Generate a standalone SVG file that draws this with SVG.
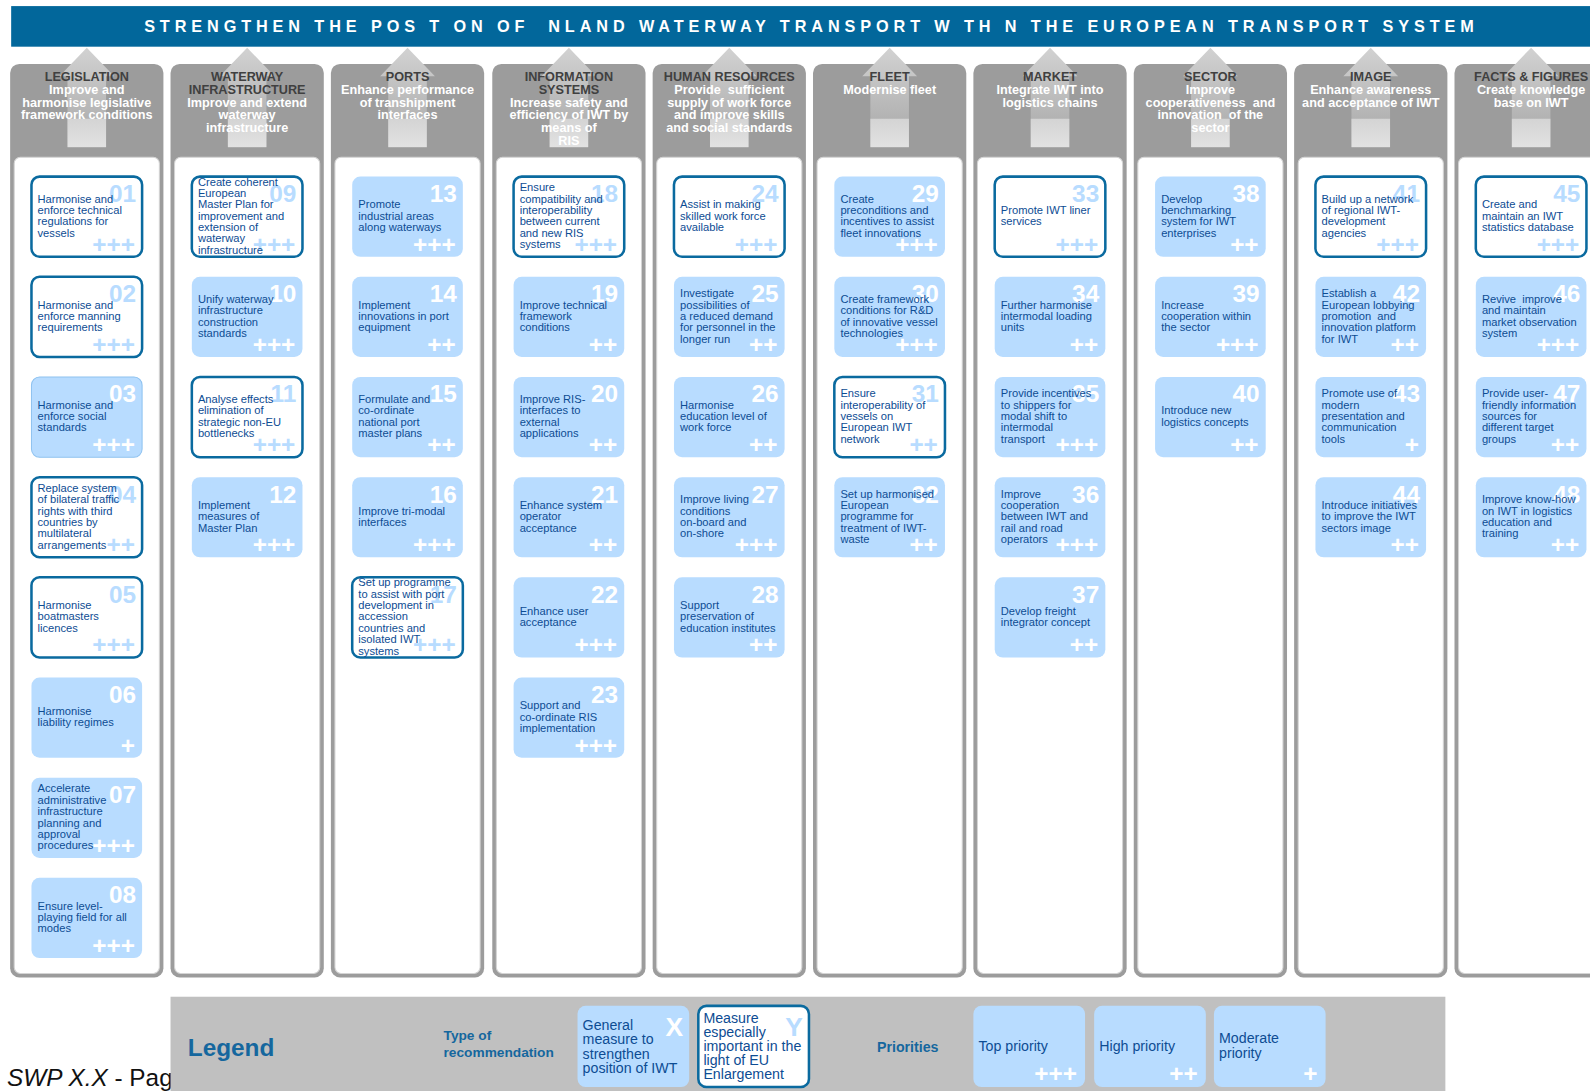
<svg xmlns="http://www.w3.org/2000/svg" width="1590" height="1091" viewBox="0 0 1590 1091">
<defs>
<style>
text{font-family:"Liberation Sans",Arial,Helvetica,sans-serif}
.banner{fill:#02679b}
.ttl{font-size:16px;font-weight:bold;fill:#fff;white-space:pre}
.cbg{fill:#9c9c9c}
.cin{fill:#fff;stroke:#d4d4d4;stroke-width:1}
.ht{font-size:12.5px;font-weight:bold;fill:#404040;text-anchor:middle}
.hs{font-size:12.5px;font-weight:bold;fill:#fff;text-anchor:middle;white-space:pre}
.cf{fill:#b8dcff}
.cb{fill:#b8dcff;stroke:#8ec2f0;stroke-width:1}
.co{fill:#fff;stroke:#0a6a9f;stroke-width:2.5}
.num{font-size:24px;font-weight:bold;text-anchor:end}
.pl{font-size:24px;font-weight:bold;text-anchor:end}
.w{fill:#fff}
.lb{fill:#b8dcff}
.tx{font-size:11px;fill:#0d4c93;white-space:pre}
.lg{fill:#c0c0c0}
.lgl{font-weight:bold;fill:#15679e}
.ltx{font-size:14px;fill:#0d4c93}
</style>
<linearGradient id="ag" x1="0" y1="0" x2="0" y2="1">
<stop offset="0" stop-color="#d2d2d2"/><stop offset="1" stop-color="#a6a6a6"/>
</linearGradient>
<linearGradient id="sg" x1="0" y1="0" x2="0" y2="1">
<stop offset="0" stop-color="#d4d4d4"/><stop offset="1" stop-color="#e2e2e2"/>
</linearGradient>
<g id="arrow">
<polygon points="0,47 27,75 19,75 19,145 -19,145 -19,75 -27,75" fill="url(#ag)"/>
<rect x="-19" y="117" width="38" height="28" fill="url(#sg)"/>
</g>
</defs>

<rect width="1590" height="1091" fill="#fff"/>

<g id="diagram" transform="scale(1.015)">

<g id="footer-page">
<text x="7" y="1070" font-size="24" fill="#111"><tspan font-style="italic">SWP X.X</tspan> - Page</text>
</g>

<g id="goal">
<rect class="banner" x="11" y="6" width="1579" height="40"/>
<text class="ttl" x="142" y="31.5" textLength="1310" lengthAdjust="spacing">STRENGTHEN THE POS T ON OF  NLAND WATERWAY TRANSPORT W TH N THE EUROPEAN TRANSPORT SYSTEM</text>
</g>

<g id="columns-frame">
<rect class="cbg" x="10" y="63" width="151" height="900" rx="9"/><rect class="cin" x="14" y="155" width="143" height="804" rx="6"/>
<rect class="cbg" x="168" y="63" width="151" height="900" rx="9"/><rect class="cin" x="172" y="155" width="143" height="804" rx="6"/>
<rect class="cbg" x="326" y="63" width="151" height="900" rx="9"/><rect class="cin" x="330" y="155" width="143" height="804" rx="6"/>
<rect class="cbg" x="485" y="63" width="151" height="900" rx="9"/><rect class="cin" x="489" y="155" width="143" height="804" rx="6"/>
<rect class="cbg" x="643" y="63" width="151" height="900" rx="9"/><rect class="cin" x="647" y="155" width="143" height="804" rx="6"/>
<rect class="cbg" x="801" y="63" width="151" height="900" rx="9"/><rect class="cin" x="805" y="155" width="143" height="804" rx="6"/>
<rect class="cbg" x="959" y="63" width="151" height="900" rx="9"/><rect class="cin" x="963" y="155" width="143" height="804" rx="6"/>
<rect class="cbg" x="1117" y="63" width="151" height="900" rx="9"/><rect class="cin" x="1121" y="155" width="143" height="804" rx="6"/>
<rect class="cbg" x="1275" y="63" width="151" height="900" rx="9"/><rect class="cin" x="1279" y="155" width="143" height="804" rx="6"/>
<rect class="cbg" x="1433" y="63" width="151" height="900" rx="9"/><rect class="cin" x="1437" y="155" width="143" height="804" rx="6"/>
</g>

<g id="connectors">
<use href="#arrow" x="85.5"/>
<use href="#arrow" x="243.5"/>
<use href="#arrow" x="401.5"/>
<use href="#arrow" x="560.5"/>
<use href="#arrow" x="718.5"/>
<use href="#arrow" x="876.5"/>
<use href="#arrow" x="1034.5"/>
<use href="#arrow" x="1192.5"/>
<use href="#arrow" x="1350.5"/>
<use href="#arrow" x="1508.5"/>
</g>

<!-- Column 1 -->
<g id="col-legislation">
<text class="ht" x="85.5" y="80">LEGISLATION</text>
<text class="hs" y="92.5"><tspan x="85.5">Improve and</tspan><tspan x="85.5" dy="12.5">harmonise legislative</tspan><tspan x="85.5" dy="12.5">framework conditions</tspan></text>
<g id="m01" transform="translate(31,174)"><rect class="co" width="109" height="79" rx="8"/><text class="num lb" x="103" y="25">01</text><text class="pl lb" x="102" y="75">+++</text><text class="tx" y="25.7"><tspan x="6">Harmonise and</tspan><tspan x="6" dy="11.2">enforce technical</tspan><tspan x="6" dy="11.2">regulations for</tspan><tspan x="6" dy="11.2">vessels</tspan></text></g>
<g id="m02" transform="translate(31,272.7)"><rect class="co" width="109" height="79" rx="8"/><text class="num lb" x="103" y="25">02</text><text class="pl lb" x="102" y="75">+++</text><text class="tx" y="31.3"><tspan x="6">Harmonise and</tspan><tspan x="6" dy="11.2">enforce manning</tspan><tspan x="6" dy="11.2">requirements</tspan></text></g>
<g id="m03" transform="translate(31,371.4)"><rect class="cb" width="109" height="79" rx="8"/><text class="num w" x="103" y="25">03</text><text class="pl w" x="102" y="75">+++</text><text class="tx" y="31.3"><tspan x="6">Harmonise and</tspan><tspan x="6" dy="11.2">enforce social</tspan><tspan x="6" dy="11.2">standards</tspan></text></g>
<g id="m04" transform="translate(31,470.1)"><rect class="co" width="109" height="79" rx="8"/><text class="num lb" x="103" y="25">04</text><text class="pl lb" x="102" y="75">++</text><text class="tx" y="14.5"><tspan x="6">Replace system</tspan><tspan x="6" dy="11.2">of bilateral traffic</tspan><tspan x="6" dy="11.2">rights with third</tspan><tspan x="6" dy="11.2">countries by</tspan><tspan x="6" dy="11.2">multilateral</tspan><tspan x="6" dy="11.2">arrangements</tspan></text></g>
<g id="m05" transform="translate(31,568.8)"><rect class="co" width="109" height="79" rx="8"/><text class="num lb" x="103" y="25">05</text><text class="pl lb" x="102" y="75">+++</text><text class="tx" y="31.3"><tspan x="6">Harmonise</tspan><tspan x="6" dy="11.2">boatmasters</tspan><tspan x="6" dy="11.2">licences</tspan></text></g>
<g id="m06" transform="translate(31,667.5)"><rect class="cf" width="109" height="79" rx="8"/><text class="num w" x="103" y="25">06</text><text class="pl w" x="102" y="75">+</text><text class="tx" y="36.9"><tspan x="6">Harmonise</tspan><tspan x="6" dy="11.2">liability regimes</tspan></text></g>
<g id="m07" transform="translate(31,766.2)"><rect class="cf" width="109" height="79" rx="8"/><text class="num w" x="103" y="25">07</text><text class="pl w" x="102" y="75">+++</text><text class="tx" y="14.5"><tspan x="6">Accelerate</tspan><tspan x="6" dy="11.2">administrative</tspan><tspan x="6" dy="11.2">infrastructure</tspan><tspan x="6" dy="11.2">planning and</tspan><tspan x="6" dy="11.2">approval</tspan><tspan x="6" dy="11.2">procedures</tspan></text></g>
<g id="m08" transform="translate(31,864.9)"><rect class="cf" width="109" height="79" rx="8"/><text class="num w" x="103" y="25">08</text><text class="pl w" x="102" y="75">+++</text><text class="tx" y="31.3"><tspan x="6">Ensure level-</tspan><tspan x="6" dy="11.2">playing field for all</tspan><tspan x="6" dy="11.2">modes</tspan></text></g>
</g>

<!-- Column 2 -->
<g id="col-waterway">
<text class="ht" y="80"><tspan x="243.5">WATERWAY</tspan><tspan x="243.5" dy="12.5">INFRASTRUCTURE</tspan></text>
<text class="hs" y="105"><tspan x="243.5">Improve and extend</tspan><tspan x="243.5" dy="12.5">waterway</tspan><tspan x="243.5" dy="12.5">infrastructure</tspan></text>
<g id="m09" transform="translate(189,174)"><rect class="co" width="109" height="79" rx="8"/><text class="num lb" x="103" y="25">09</text><text class="pl lb" x="102" y="75">+++</text><text class="tx" y="8.9"><tspan x="6">Create coherent</tspan><tspan x="6" dy="11.2">European</tspan><tspan x="6" dy="11.2">Master Plan for</tspan><tspan x="6" dy="11.2">improvement and</tspan><tspan x="6" dy="11.2">extension of</tspan><tspan x="6" dy="11.2">waterway</tspan><tspan x="6" dy="11.2">infrastructure</tspan></text></g>
<g id="m10" transform="translate(189,272.7)"><rect class="cf" width="109" height="79" rx="8"/><text class="num w" x="103" y="25">10</text><text class="pl w" x="102" y="75">+++</text><text class="tx" y="25.7"><tspan x="6">Unify waterway</tspan><tspan x="6" dy="11.2">infrastructure</tspan><tspan x="6" dy="11.2">construction</tspan><tspan x="6" dy="11.2">standards</tspan></text></g>
<g id="m11" transform="translate(189,371.4)"><rect class="co" width="109" height="79" rx="8"/><text class="num lb" x="103" y="25">11</text><text class="pl lb" x="102" y="75">+++</text><text class="tx" y="25.7"><tspan x="6">Analyse effects</tspan><tspan x="6" dy="11.2">elimination of</tspan><tspan x="6" dy="11.2">strategic non-EU</tspan><tspan x="6" dy="11.2">bottlenecks</tspan></text></g>
<g id="m12" transform="translate(189,470.1)"><rect class="cf" width="109" height="79" rx="8"/><text class="num w" x="103" y="25">12</text><text class="pl w" x="102" y="75">+++</text><text class="tx" y="31.3"><tspan x="6">Implement</tspan><tspan x="6" dy="11.2">measures of</tspan><tspan x="6" dy="11.2">Master Plan</tspan></text></g>
</g>

<!-- Column 3 -->
<g id="col-ports">
<text class="ht" x="401.5" y="80">PORTS</text>
<text class="hs" y="92.5"><tspan x="401.5">Enhance performance</tspan><tspan x="401.5" dy="12.5">of transhipment</tspan><tspan x="401.5" dy="12.5">interfaces</tspan></text>
<g id="m13" transform="translate(347,174)"><rect class="cf" width="109" height="79" rx="8"/><text class="num w" x="103" y="25">13</text><text class="pl w" x="102" y="75">+++</text><text class="tx" y="31.3"><tspan x="6">Promote</tspan><tspan x="6" dy="11.2">industrial areas</tspan><tspan x="6" dy="11.2">along waterways</tspan></text></g>
<g id="m14" transform="translate(347,272.7)"><rect class="cf" width="109" height="79" rx="8"/><text class="num w" x="103" y="25">14</text><text class="pl w" x="102" y="75">++</text><text class="tx" y="31.3"><tspan x="6">Implement</tspan><tspan x="6" dy="11.2">innovations in port</tspan><tspan x="6" dy="11.2">equipment</tspan></text></g>
<g id="m15" transform="translate(347,371.4)"><rect class="cf" width="109" height="79" rx="8"/><text class="num w" x="103" y="25">15</text><text class="pl w" x="102" y="75">++</text><text class="tx" y="25.7"><tspan x="6">Formulate and</tspan><tspan x="6" dy="11.2">co-ordinate</tspan><tspan x="6" dy="11.2">national port</tspan><tspan x="6" dy="11.2">master plans</tspan></text></g>
<g id="m16" transform="translate(347,470.1)"><rect class="cf" width="109" height="79" rx="8"/><text class="num w" x="103" y="25">16</text><text class="pl w" x="102" y="75">+++</text><text class="tx" y="36.9"><tspan x="6">Improve tri-modal</tspan><tspan x="6" dy="11.2">interfaces</tspan></text></g>
<g id="m17" transform="translate(347,568.8)"><rect class="co" width="109" height="79" rx="8"/><text class="num lb" x="103" y="25">17</text><text class="pl lb" x="102" y="75">+++</text><text class="tx" y="8.9"><tspan x="6">Set up programme</tspan><tspan x="6" dy="11.2">to assist with port</tspan><tspan x="6" dy="11.2">development in</tspan><tspan x="6" dy="11.2">accession</tspan><tspan x="6" dy="11.2">countries and</tspan><tspan x="6" dy="11.2">isolated IWT</tspan><tspan x="6" dy="11.2">systems</tspan></text></g>
</g>

<!-- Column 4 -->
<g id="col-information">
<text class="ht" y="80"><tspan x="560.5">INFORMATION</tspan><tspan x="560.5" dy="12.5">SYSTEMS</tspan></text>
<text class="hs" y="105"><tspan x="560.5">Increase safety and</tspan><tspan x="560.5" dy="12.5">efficiency of IWT by</tspan><tspan x="560.5" dy="12.5">means of</tspan><tspan x="560.5" dy="12.5">RIS</tspan></text>
<g id="m18" transform="translate(506,174)"><rect class="co" width="109" height="79" rx="8"/><text class="num lb" x="103" y="25">18</text><text class="pl lb" x="102" y="75">+++</text><text class="tx" y="14.5"><tspan x="6">Ensure</tspan><tspan x="6" dy="11.2">compatibility and</tspan><tspan x="6" dy="11.2">interoperability</tspan><tspan x="6" dy="11.2">between current</tspan><tspan x="6" dy="11.2">and new RIS</tspan><tspan x="6" dy="11.2">systems</tspan></text></g>
<g id="m19" transform="translate(506,272.7)"><rect class="cf" width="109" height="79" rx="8"/><text class="num w" x="103" y="25">19</text><text class="pl w" x="102" y="75">++</text><text class="tx" y="31.3"><tspan x="6">Improve technical</tspan><tspan x="6" dy="11.2">framework</tspan><tspan x="6" dy="11.2">conditions</tspan></text></g>
<g id="m20" transform="translate(506,371.4)"><rect class="cf" width="109" height="79" rx="8"/><text class="num w" x="103" y="25">20</text><text class="pl w" x="102" y="75">++</text><text class="tx" y="25.7"><tspan x="6">Improve RIS-</tspan><tspan x="6" dy="11.2">interfaces to</tspan><tspan x="6" dy="11.2">external</tspan><tspan x="6" dy="11.2">applications</tspan></text></g>
<g id="m21" transform="translate(506,470.1)"><rect class="cf" width="109" height="79" rx="8"/><text class="num w" x="103" y="25">21</text><text class="pl w" x="102" y="75">++</text><text class="tx" y="31.3"><tspan x="6">Enhance system</tspan><tspan x="6" dy="11.2">operator</tspan><tspan x="6" dy="11.2">acceptance</tspan></text></g>
<g id="m22" transform="translate(506,568.8)"><rect class="cf" width="109" height="79" rx="8"/><text class="num w" x="103" y="25">22</text><text class="pl w" x="102" y="75">+++</text><text class="tx" y="36.9"><tspan x="6">Enhance user</tspan><tspan x="6" dy="11.2">acceptance</tspan></text></g>
<g id="m23" transform="translate(506,667.5)"><rect class="cf" width="109" height="79" rx="8"/><text class="num w" x="103" y="25">23</text><text class="pl w" x="102" y="75">+++</text><text class="tx" y="31.3"><tspan x="6">Support and</tspan><tspan x="6" dy="11.2">co-ordinate RIS</tspan><tspan x="6" dy="11.2">implementation</tspan></text></g>
</g>

<!-- Column 5 -->
<g id="col-human-resources">
<text class="ht" x="718.5" y="80">HUMAN RESOURCES</text>
<text class="hs" y="92.5"><tspan x="718.5">Provide  sufficient</tspan><tspan x="718.5" dy="12.5">supply of work force</tspan><tspan x="718.5" dy="12.5">and improve skills</tspan><tspan x="718.5" dy="12.5">and social standards</tspan></text>
<g id="m24" transform="translate(664,174)"><rect class="co" width="109" height="79" rx="8"/><text class="num lb" x="103" y="25">24</text><text class="pl lb" x="102" y="75">+++</text><text class="tx" y="31.3"><tspan x="6">Assist in making</tspan><tspan x="6" dy="11.2">skilled work force</tspan><tspan x="6" dy="11.2">available</tspan></text></g>
<g id="m25" transform="translate(664,272.7)"><rect class="cf" width="109" height="79" rx="8"/><text class="num w" x="103" y="25">25</text><text class="pl w" x="102" y="75">++</text><text class="tx" y="20.1"><tspan x="6">Investigate</tspan><tspan x="6" dy="11.2">possibilities of</tspan><tspan x="6" dy="11.2">a reduced demand</tspan><tspan x="6" dy="11.2">for personnel in the</tspan><tspan x="6" dy="11.2">longer run</tspan></text></g>
<g id="m26" transform="translate(664,371.4)"><rect class="cf" width="109" height="79" rx="8"/><text class="num w" x="103" y="25">26</text><text class="pl w" x="102" y="75">++</text><text class="tx" y="31.3"><tspan x="6">Harmonise</tspan><tspan x="6" dy="11.2">education level of</tspan><tspan x="6" dy="11.2">work force</tspan></text></g>
<g id="m27" transform="translate(664,470.1)"><rect class="cf" width="109" height="79" rx="8"/><text class="num w" x="103" y="25">27</text><text class="pl w" x="102" y="75">+++</text><text class="tx" y="25.7"><tspan x="6">Improve living</tspan><tspan x="6" dy="11.2">conditions</tspan><tspan x="6" dy="11.2">on-board and</tspan><tspan x="6" dy="11.2">on-shore</tspan></text></g>
<g id="m28" transform="translate(664,568.8)"><rect class="cf" width="109" height="79" rx="8"/><text class="num w" x="103" y="25">28</text><text class="pl w" x="102" y="75">++</text><text class="tx" y="31.3"><tspan x="6">Support</tspan><tspan x="6" dy="11.2">preservation of</tspan><tspan x="6" dy="11.2">education institutes</tspan></text></g>
</g>

<!-- Column 6 -->
<g id="col-fleet">
<text class="ht" x="876.5" y="80">FLEET</text>
<text class="hs" x="876.5" y="92.5">Modernise fleet</text>
<g id="m29" transform="translate(822,174)"><rect class="cf" width="109" height="79" rx="8"/><text class="num w" x="103" y="25">29</text><text class="pl w" x="102" y="75">+++</text><text class="tx" y="25.7"><tspan x="6">Create</tspan><tspan x="6" dy="11.2">preconditions and</tspan><tspan x="6" dy="11.2">incentives to assist</tspan><tspan x="6" dy="11.2">fleet innovations</tspan></text></g>
<g id="m30" transform="translate(822,272.7)"><rect class="cf" width="109" height="79" rx="8"/><text class="num w" x="103" y="25">30</text><text class="pl w" x="102" y="75">+++</text><text class="tx" y="25.7"><tspan x="6">Create framework</tspan><tspan x="6" dy="11.2">conditions for R&amp;D</tspan><tspan x="6" dy="11.2">of innovative vessel</tspan><tspan x="6" dy="11.2">technologies</tspan></text></g>
<g id="m31" transform="translate(822,371.4)"><rect class="co" width="109" height="79" rx="8"/><text class="num lb" x="103" y="25">31</text><text class="pl lb" x="102" y="75">++</text><text class="tx" y="20.1"><tspan x="6">Ensure</tspan><tspan x="6" dy="11.2">interoperability of</tspan><tspan x="6" dy="11.2">vessels on</tspan><tspan x="6" dy="11.2">European IWT</tspan><tspan x="6" dy="11.2">network</tspan></text></g>
<g id="m32" transform="translate(822,470.1)"><rect class="cf" width="109" height="79" rx="8"/><text class="num w" x="103" y="25">32</text><text class="pl w" x="102" y="75">++</text><text class="tx" y="20.1"><tspan x="6">Set up harmonised</tspan><tspan x="6" dy="11.2">European</tspan><tspan x="6" dy="11.2">programme for</tspan><tspan x="6" dy="11.2">treatment of IWT-</tspan><tspan x="6" dy="11.2">waste</tspan></text></g>
</g>

<!-- Column 7 -->
<g id="col-market">
<text class="ht" x="1034.5" y="80">MARKET</text>
<text class="hs" y="92.5"><tspan x="1034.5">Integrate IWT into</tspan><tspan x="1034.5" dy="12.5">logistics chains</tspan></text>
<g id="m33" transform="translate(980,174)"><rect class="co" width="109" height="79" rx="8"/><text class="num lb" x="103" y="25">33</text><text class="pl lb" x="102" y="75">+++</text><text class="tx" y="36.9"><tspan x="6">Promote IWT liner</tspan><tspan x="6" dy="11.2">services</tspan></text></g>
<g id="m34" transform="translate(980,272.7)"><rect class="cf" width="109" height="79" rx="8"/><text class="num w" x="103" y="25">34</text><text class="pl w" x="102" y="75">++</text><text class="tx" y="31.3"><tspan x="6">Further harmonise</tspan><tspan x="6" dy="11.2">intermodal loading</tspan><tspan x="6" dy="11.2">units</tspan></text></g>
<g id="m35" transform="translate(980,371.4)"><rect class="cf" width="109" height="79" rx="8"/><text class="num w" x="103" y="25">35</text><text class="pl w" x="102" y="75">+++</text><text class="tx" y="20.1"><tspan x="6">Provide incentives</tspan><tspan x="6" dy="11.2">to shippers for</tspan><tspan x="6" dy="11.2">modal shift to</tspan><tspan x="6" dy="11.2">intermodal</tspan><tspan x="6" dy="11.2">transport</tspan></text></g>
<g id="m36" transform="translate(980,470.1)"><rect class="cf" width="109" height="79" rx="8"/><text class="num w" x="103" y="25">36</text><text class="pl w" x="102" y="75">+++</text><text class="tx" y="20.1"><tspan x="6">Improve</tspan><tspan x="6" dy="11.2">cooperation</tspan><tspan x="6" dy="11.2">between IWT and</tspan><tspan x="6" dy="11.2">rail and road</tspan><tspan x="6" dy="11.2">operators</tspan></text></g>
<g id="m37" transform="translate(980,568.8)"><rect class="cf" width="109" height="79" rx="8"/><text class="num w" x="103" y="25">37</text><text class="pl w" x="102" y="75">++</text><text class="tx" y="36.9"><tspan x="6">Develop freight</tspan><tspan x="6" dy="11.2">integrator concept</tspan></text></g>
</g>

<!-- Column 8 -->
<g id="col-sector">
<text class="ht" x="1192.5" y="80">SECTOR</text>
<text class="hs" y="92.5"><tspan x="1192.5">Improve</tspan><tspan x="1192.5" dy="12.5">cooperativeness  and</tspan><tspan x="1192.5" dy="12.5">innovation  of the</tspan><tspan x="1192.5" dy="12.5">sector</tspan></text>
<g id="m38" transform="translate(1138,174)"><rect class="cf" width="109" height="79" rx="8"/><text class="num w" x="103" y="25">38</text><text class="pl w" x="102" y="75">++</text><text class="tx" y="25.7"><tspan x="6">Develop</tspan><tspan x="6" dy="11.2">benchmarking</tspan><tspan x="6" dy="11.2">system for IWT</tspan><tspan x="6" dy="11.2">enterprises</tspan></text></g>
<g id="m39" transform="translate(1138,272.7)"><rect class="cf" width="109" height="79" rx="8"/><text class="num w" x="103" y="25">39</text><text class="pl w" x="102" y="75">+++</text><text class="tx" y="31.3"><tspan x="6">Increase</tspan><tspan x="6" dy="11.2">cooperation within</tspan><tspan x="6" dy="11.2">the sector</tspan></text></g>
<g id="m40" transform="translate(1138,371.4)"><rect class="cf" width="109" height="79" rx="8"/><text class="num w" x="103" y="25">40</text><text class="pl w" x="102" y="75">++</text><text class="tx" y="36.9"><tspan x="6">Introduce new</tspan><tspan x="6" dy="11.2">logistics concepts</tspan></text></g>
</g>

<!-- Column 9 -->
<g id="col-image">
<text class="ht" x="1350.5" y="80">IMAGE</text>
<text class="hs" y="92.5"><tspan x="1350.5">Enhance awareness</tspan><tspan x="1350.5" dy="12.5">and acceptance of IWT</tspan></text>
<g id="m41" transform="translate(1296,174)"><rect class="co" width="109" height="79" rx="8"/><text class="num lb" x="103" y="25">41</text><text class="pl lb" x="102" y="75">+++</text><text class="tx" y="25.7"><tspan x="6">Build up a network</tspan><tspan x="6" dy="11.2">of regional IWT-</tspan><tspan x="6" dy="11.2">development</tspan><tspan x="6" dy="11.2">agencies</tspan></text></g>
<g id="m42" transform="translate(1296,272.7)"><rect class="cf" width="109" height="79" rx="8"/><text class="num w" x="103" y="25">42</text><text class="pl w" x="102" y="75">++</text><text class="tx" y="20.1"><tspan x="6">Establish a</tspan><tspan x="6" dy="11.2">European lobbying</tspan><tspan x="6" dy="11.2">promotion  and</tspan><tspan x="6" dy="11.2">innovation platform</tspan><tspan x="6" dy="11.2">for IWT</tspan></text></g>
<g id="m43" transform="translate(1296,371.4)"><rect class="cf" width="109" height="79" rx="8"/><text class="num w" x="103" y="25">43</text><text class="pl w" x="102" y="75">+</text><text class="tx" y="20.1"><tspan x="6">Promote use of</tspan><tspan x="6" dy="11.2">modern</tspan><tspan x="6" dy="11.2">presentation and</tspan><tspan x="6" dy="11.2">communication</tspan><tspan x="6" dy="11.2">tools</tspan></text></g>
<g id="m44" transform="translate(1296,470.1)"><rect class="cf" width="109" height="79" rx="8"/><text class="num w" x="103" y="25">44</text><text class="pl w" x="102" y="75">++</text><text class="tx" y="31.3"><tspan x="6">Introduce initiatives</tspan><tspan x="6" dy="11.2">to improve the IWT</tspan><tspan x="6" dy="11.2">sectors image</tspan></text></g>
</g>

<!-- Column 10 -->
<g id="col-facts-figures">
<text class="ht" x="1508.5" y="80">FACTS &amp; FIGURES</text>
<text class="hs" y="92.5"><tspan x="1508.5">Create knowledge</tspan><tspan x="1508.5" dy="12.5">base on IWT</tspan></text>
<g id="m45" transform="translate(1454,174)"><rect class="co" width="109" height="79" rx="8"/><text class="num lb" x="103" y="25">45</text><text class="pl lb" x="102" y="75">+++</text><text class="tx" y="31.3"><tspan x="6">Create and</tspan><tspan x="6" dy="11.2">maintain an IWT</tspan><tspan x="6" dy="11.2">statistics database</tspan></text></g>
<g id="m46" transform="translate(1454,272.7)"><rect class="cf" width="109" height="79" rx="8"/><text class="num w" x="103" y="25">46</text><text class="pl w" x="102" y="75">+++</text><text class="tx" y="25.7"><tspan x="6">Revive  improve</tspan><tspan x="6" dy="11.2">and maintain</tspan><tspan x="6" dy="11.2">market observation</tspan><tspan x="6" dy="11.2">system</tspan></text></g>
<g id="m47" transform="translate(1454,371.4)"><rect class="cf" width="109" height="79" rx="8"/><text class="num w" x="103" y="25">47</text><text class="pl w" x="102" y="75">++</text><text class="tx" y="20.1"><tspan x="6">Provide user-</tspan><tspan x="6" dy="11.2">friendly information</tspan><tspan x="6" dy="11.2">sources for</tspan><tspan x="6" dy="11.2">different target</tspan><tspan x="6" dy="11.2">groups</tspan></text></g>
<g id="m48" transform="translate(1454,470.1)"><rect class="cf" width="109" height="79" rx="8"/><text class="num w" x="103" y="25">48</text><text class="pl w" x="102" y="75">++</text><text class="tx" y="25.7"><tspan x="6">Improve know-how</tspan><tspan x="6" dy="11.2">on IWT in logistics</tspan><tspan x="6" dy="11.2">education and</tspan><tspan x="6" dy="11.2">training</tspan></text></g>
</g>

<!-- Legend -->
<g id="legend">
<rect class="lg" x="168" y="982" width="1256" height="109"/>
<text class="lgl" x="185" y="1040" font-size="24">Legend</text>
<text class="lgl" font-size="13.5" y="1025"><tspan x="437">Type of</tspan><tspan x="437" dy="16">recommendation</tspan></text>
<g id="legend-x" transform="translate(569,991)"><rect class="cf" width="110" height="80" rx="8"/><text class="w" x="104" y="30" font-size="26" font-weight="bold" text-anchor="end">X</text><text class="ltx" y="24"><tspan x="5">General</tspan><tspan x="5" dy="14">measure to</tspan><tspan x="5" dy="14">strengthen</tspan><tspan x="5" dy="14">position of IWT</tspan></text></g>
<g id="legend-y" transform="translate(688,991)"><rect class="co" width="109" height="80" rx="8"/><text class="lb" x="103" y="30" font-size="26" font-weight="bold" text-anchor="end">Y</text><text class="ltx" y="17"><tspan x="5">Measure</tspan><tspan x="5" dy="13.75">especially</tspan><tspan x="5" dy="13.75">important in the</tspan><tspan x="5" dy="13.75">light of EU</tspan><tspan x="5" dy="13.75">Enlargement</tspan></text></g>
<text class="lgl" x="864" y="1036" font-size="14">Priorities</text>
<g id="legend-top" transform="translate(959,991)"><rect class="cf" width="110" height="80" rx="8"/><text class="ltx" x="5" y="44">Top priority</text><text class="pl w" x="102" y="75">+++</text></g>
<g id="legend-high" transform="translate(1078,991)"><rect class="cf" width="110" height="80" rx="8"/><text class="ltx" x="5" y="44">High priority</text><text class="pl w" x="102" y="75">++</text></g>
<g id="legend-moderate" transform="translate(1196,991)"><rect class="cf" width="110" height="80" rx="8"/><text class="ltx" y="37"><tspan x="5">Moderate</tspan><tspan x="5" dy="14">priority</tspan></text><text class="pl w" x="102" y="75">+</text></g>
</g>

</g>
</svg>
